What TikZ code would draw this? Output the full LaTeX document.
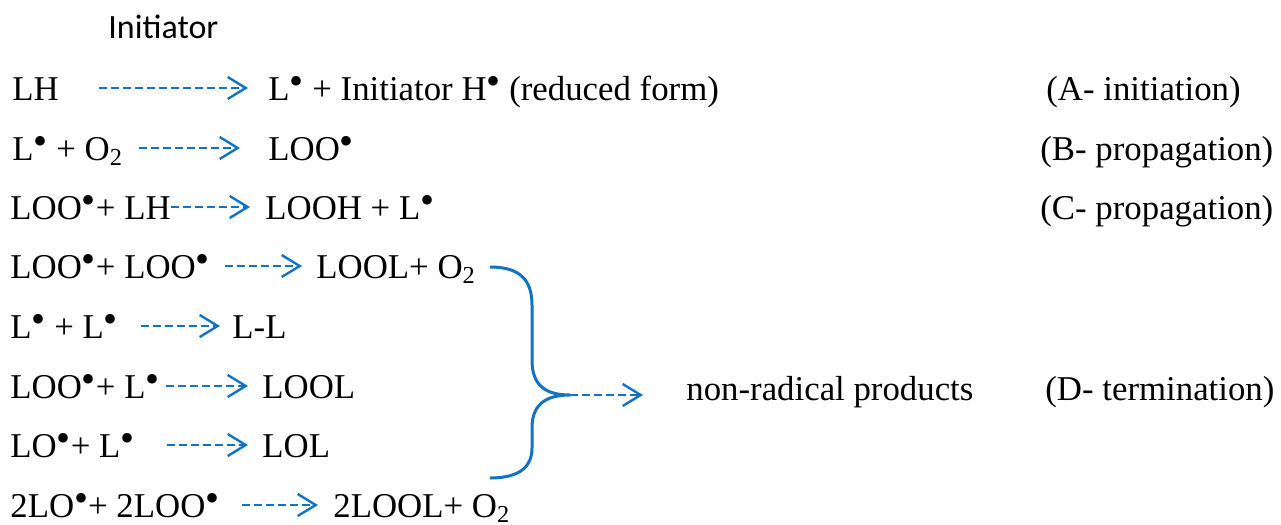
\documentclass[tikz,border=0pt]{standalone}
\usepackage{fontspec}
\setmainfont{Liberation Serif}
\newfontfamily\initfont{Carlito}
\definecolor{ArrowBlue}{HTML}{1273C4}
\usetikzlibrary{arrows.meta, positioning}
\newcommand{\rad}{\raisebox{2.7pt}{\fontsize{20}{20}\selectfont •}}
\newcommand{\two}{\textsubscript{2}}

\begin{document}
\begin{tikzpicture}[
  x=0.5pt, y=-0.5pt,
  chem/.style={anchor=base west, inner sep=0pt, font=\fontsize{17.4}{20}\selectfont},
  react/.style={draw=ArrowBlue, line width=1.2pt, dash pattern=on 4pt off 2pt,
    -{Straight Barb[length=9pt, width=11pt, line width=1.2pt]}},
  brace/.style={draw=ArrowBlue, line width=1.5pt},
]
  \useasboundingbox (0,0) rectangle (1281,525);

  \node[chem, font=\initfont\fontsize{17}{20}\selectfont] (init) at (108,38) {Initiator};

  \node[chem] (r1) at (12,100) {LH};
  \node[chem] (p1) at (268,100) {L\rad{} + Initiator H\rad{} (reduced form)};
  \node[chem] (l1) at (1046,100) {(A- initiation)};

  \node[chem] (r2) at (12,160) {L\rad{} + O\two};
  \node[chem] (p2) at (268,160) {LOO\rad};
  \node[chem] (l2) at (1040,160) {(B- propagation)};

  \node[chem] (r3) at (10,219) {LOO\rad+ LH};
  \node[chem] (p3) at (265,219) {LOOH + L\rad};
  \node[chem] (l3) at (1040,219) {(C- propagation)};

  \node[chem] (r4) at (10,278) {LOO\rad+ LOO\rad};
  \node[chem] (p4) at (316,278) {LOOL+ O\two};

  \node[chem] (r5) at (10,338) {L\rad{} + L\rad};
  \node[chem] (p5) at (232,338) {L-L};

  \node[chem] (r6) at (10,398) {LOO\rad+ L\rad};
  \node[chem] (p6) at (262,398) {LOOL};

  \node[chem] (r7) at (10,457) {LO\rad+ L\rad};
  \node[chem] (p7) at (262,457) {LOL};

  \node[chem] (r8) at (10,517) {2LO\rad+ 2LOO\rad};
  \node[chem] (p8) at (333,517) {2LOOL+ O\two};

  \node[chem] (nr) at (686,400) {non-radical products};
  \node[chem] (l4) at (1045,400) {(D- termination)};

  \draw[react] ([xshift=20pt, yshift=6pt]r1.base east) -- ([xshift=-10pt, yshift=6pt]p1.base west);
  \draw[react] ([xshift=8pt, yshift=6pt]r2.base east) -- ([xshift=-14pt, yshift=6pt]p2.base west);
  \draw[react] ([xshift=0pt, yshift=6pt]r3.base east) -- ([xshift=-7.5pt, yshift=6pt]p3.base west);
  \draw[react] ([xshift=7.5pt, yshift=6pt]r4.base east) -- ([xshift=-7pt, yshift=6pt]p4.base west);
  \draw[react] ([xshift=11.5pt, yshift=6pt]r5.base east) -- ([xshift=-6pt, yshift=6pt]p5.base west);
  \draw[react] ([xshift=3pt, yshift=6pt]r6.base east) -- ([xshift=-7pt, yshift=6pt]p6.base west);
  \draw[react] ([xshift=16pt, yshift=6pt]r7.base east) -- ([xshift=-7pt, yshift=6pt]p7.base west);
  \draw[react] ([xshift=11pt, yshift=6pt]r8.base east) -- ([xshift=-7.5pt, yshift=6pt]p8.base west);

  \coordinate (btop) at (490,267);
  \coordinate (tip) at (570,395);
  \coordinate (bbot) at (490,478);
  \draw[brace] (btop) .. controls (520,267) and (532,280) .. (532,305) -- (532,360)
    .. controls (532,385) and (545,395) .. (tip)
    .. controls (545,395) and (532,405) .. (532,428) -- (532,448)
    .. controls (532,470) and (515,478) .. (bbot);
  \draw[react] (tip) -- ([xshift=-21.5pt]tip -| nr.west);
\end{tikzpicture}
\end{document}
